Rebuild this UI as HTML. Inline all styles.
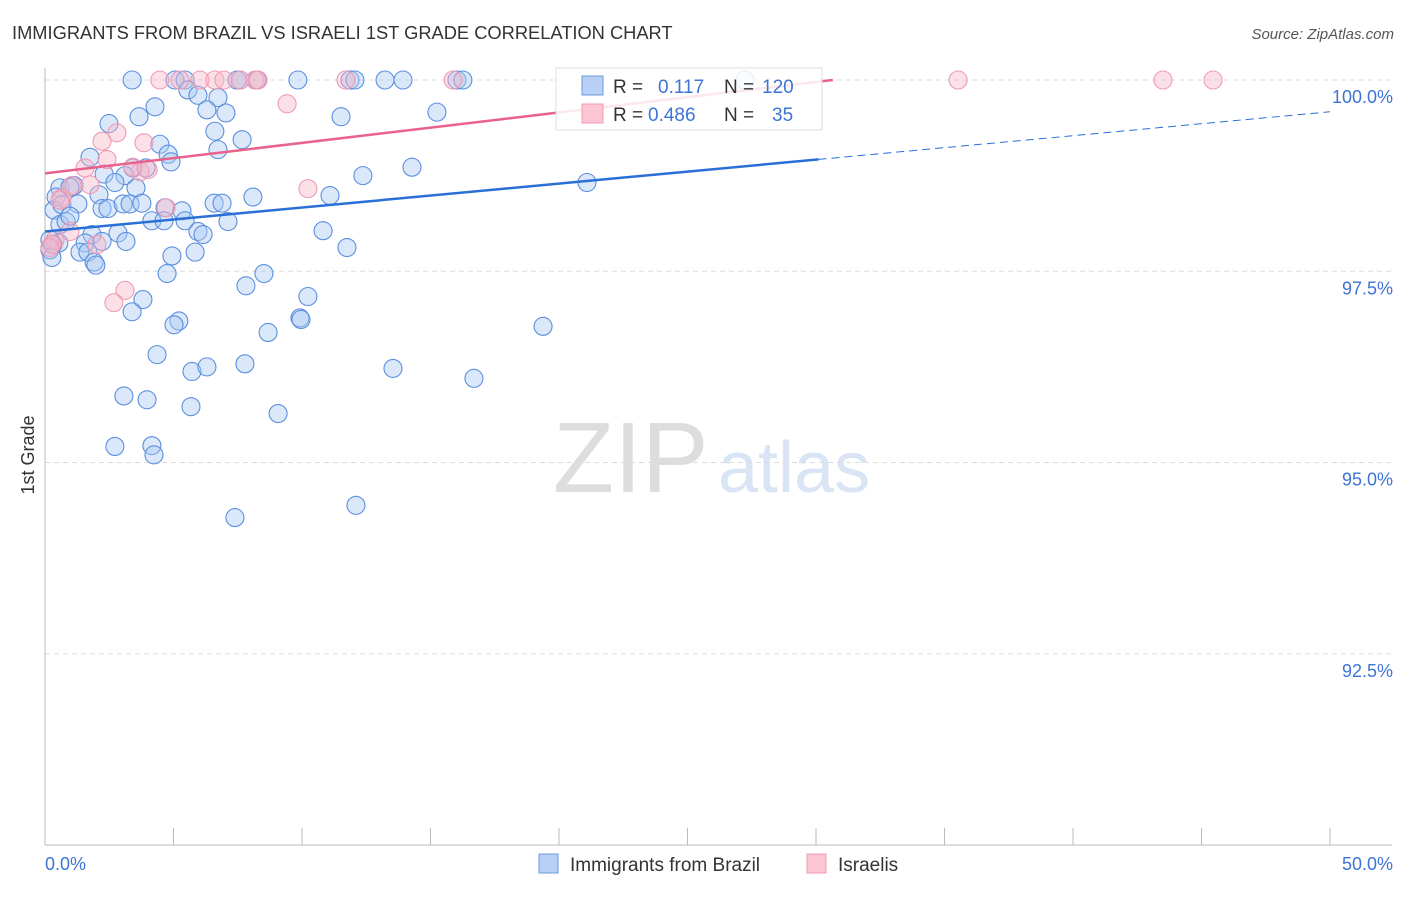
<!DOCTYPE html>
<html><head><meta charset="utf-8"><style>
body{margin:0;background:#fff;font-family:"Liberation Sans",sans-serif}
svg text{font-family:"Liberation Sans",sans-serif}
</style></head><body>
<svg id="chart" width="1406" height="892">
<text x="12" y="39" font-size="18.3" fill="#333">IMMIGRANTS FROM BRAZIL VS ISRAELI 1ST GRADE CORRELATION CHART</text>
<text x="1394" y="39" font-size="15" fill="#555" font-style="italic" text-anchor="end">Source: ZipAtlas.com</text>
<text transform="translate(34,455) rotate(-90)" font-size="18" fill="#333" text-anchor="middle">1st Grade</text>
<text x="553" y="492" font-size="100" fill="#ddd" font-family="Liberation Serif">ZIP</text>
<text x="718" y="492" font-size="72" fill="#d9e4f5">atlas</text>
<g id="grid"></g><g id="axes"></g><g id="pts"></g><g id="lines"></g>
<g>
<rect x="556" y="68" width="266" height="62" fill="#fff" fill-opacity="0.85" stroke="#ddd"/>
<rect x="582" y="76" width="21" height="19" fill="#b8d0f5" stroke="#6a9ae0"/>
<rect x="582" y="104" width="21" height="19" fill="#fbc5d4" stroke="#f09ab3"/>
<text x="613" y="93" font-size="19" fill="#333">R = </text><text x="658" y="93" font-size="19" fill="#3d74d6">0.117</text>
<text x="724" y="93" font-size="19" fill="#333">N = </text><text x="762" y="93" font-size="19" fill="#3d74d6">120</text>
<text x="613" y="121" font-size="19" fill="#333">R = </text><text x="648" y="121" font-size="19" fill="#3d74d6">0.486</text>
<text x="724" y="121" font-size="19" fill="#333">N = </text><text x="772" y="121" font-size="19" fill="#3d74d6">35</text>
</g>
<g>
<rect x="539" y="854" width="19" height="19" fill="#b8d0f5" stroke="#6a9ae0"/>
<text x="570" y="871" font-size="19" fill="#333">Immigrants from Brazil</text>
<rect x="807" y="854" width="19" height="19" fill="#fbc5d4" stroke="#f09ab3"/>
<text x="838" y="871" font-size="19" fill="#333">Israelis</text>
</g>
</svg>
<script>
const xTicks=[0,5,10,15,20,25,30,35,40,45,50];
const yTicks=[100,97.5,95,92.5];
const yTickLabels=["100.0%","97.5%","95.0%","92.5%"];
const xEndLabels=["0.0%","50.0%"];
const brazilX=[3.39,5.06,5.45,7.47,7.59,8.25,9.84,11.87,12.06,13.23,13.93,16.03,16.26,27.24,4.28,5.56,5.95,6.73,6.30,7.04,3.66,2.49,6.61,7.67,4.47,4.79,6.73,1.75,4.90,3.42,14.28,11.52,15.25,2.30,3.11,3.93,2.72,3.54,0.58,1.13,0.97,0.43,2.10,8.09,11.09,12.37,21.09,0.35,0.66,1.28,2.22,2.45,3.04,3.31,3.77,4.67,5.33,6.58,6.89,0.58,0.82,0.97,4.16,4.63,5.45,7.12,10.82,1.83,2.84,5.95,6.15,1.56,2.22,3.15,11.75,0.54,0.19,0.27,1.36,1.67,1.91,1.98,4.94,5.84,4.75,8.52,7.82,10.23,3.81,3.39,9.92,9.96,5.21,5.02,8.68,19.38,4.36,7.78,13.54,5.72,6.30,16.69,3.07,3.97,5.68,9.07,2.72,4.16,4.24,7.39,12.10,0.19,0.31];
const brazilY=[100,100,100,100,100,100,100,100,100,100,100,100,100,100,99.65,99.87,99.80,99.77,99.61,99.57,99.52,99.43,99.33,99.22,99.16,99.03,99.09,98.99,98.93,98.85,98.86,99.52,99.58,98.77,98.75,98.85,98.66,98.59,98.59,98.62,98.60,98.47,98.50,98.47,98.49,98.75,98.66,98.30,98.37,98.38,98.32,98.32,98.38,98.38,98.39,98.33,98.29,98.39,98.39,98.11,98.15,98.22,98.16,98.16,98.16,98.15,98.03,97.98,98.00,98.02,97.98,97.87,97.89,97.89,97.81,97.87,97.78,97.68,97.75,97.75,97.62,97.58,97.70,97.75,97.47,97.47,97.31,97.17,97.13,96.97,96.89,96.87,96.85,96.80,96.70,96.78,96.41,96.29,96.23,96.19,96.25,96.10,95.87,95.82,95.73,95.64,95.21,95.22,95.10,94.28,94.44,97.91,97.85];
const israelX=[4.47,5.25,6.03,6.61,6.96,7.59,8.17,8.29,11.71,15.88,35.53,43.50,45.45,9.42,2.80,2.22,3.85,2.41,1.56,3.70,4.01,1.05,1.75,10.23,0.66,4.71,0.39,0.27,0.97,2.02,3.11,2.68,3.42,0.19,0.58];
const israelY=[100,100,100,100,100,100,100,100,100,100,100,100,100,99.69,99.31,99.20,99.18,98.96,98.85,98.80,98.83,98.62,98.63,98.58,98.46,98.33,97.91,97.85,98.02,97.85,97.25,97.09,98.86,97.81,98.43];
const brazilTrend=[98.02,0.0313];
const israelTrend=[98.78,0.0398];

const X0=45,X1=1330,YT=80,YB=845;
const sx=v=>X0+(v/50)*(X1-X0);
const sy=v=>YT+(100-v)/10*(YB-YT);
const NS="http://www.w3.org/2000/svg";
function mk(p,tag,attrs){const e=document.createElementNS(NS,tag);for(const k in attrs)e.setAttribute(k,attrs[k]);p.appendChild(e);return e;}
const grid=document.getElementById('grid'),axes=document.getElementById('axes'),pts=document.getElementById('pts'),lines=document.getElementById('lines');
yTicks.forEach((t,i)=>{
 const l=mk(grid,'line',{x1:X0,x2:1392,y1:sy(t),y2:sy(t),stroke:'#ddd','stroke-dasharray':'5,4'});
 
 
 const tx=mk(grid,'text',{x:1393,y:sy(t)+23,'font-size':18,fill:'#3d74d6','text-anchor':'end'});
 tx.textContent=yTickLabels[i];
 
 
});
const ax=mk(axes,'line',{x1:X0,x2:1392,y1:YB,y2:YB,stroke:'#bbb'});


const ay=mk(axes,'line',{x1:X0,x2:X0,y1:68,y2:YB,stroke:'#bbb'});


xTicks.forEach(t=>{
 const l=mk(axes,'line',{x1:sx(t),x2:sx(t),y1:828,y2:YB,stroke:'#bbb'});
 
 
});
const xl0=mk(axes,'text',{x:45,y:870,'font-size':18,fill:'#3d74d6'});xl0.textContent=xEndLabels[0];


const xl1=mk(axes,'text',{x:1393,y:870,'font-size':18,fill:'#3d74d6','text-anchor':'end'});xl1.textContent=xEndLabels[1];


brazilX.forEach((v,i)=>{
 const c=mk(pts,'circle',{cx:sx(v),cy:sy(brazilY[i]),r:9,fill:'#a9c7f0','fill-opacity':0.42,stroke:'#5b8fe0','stroke-width':1.1});
 
 
});
israelX.forEach((v,i)=>{
 const c=mk(pts,'circle',{cx:sx(v),cy:sy(israelY[i]),r:9,fill:'#f9b6c9','fill-opacity':0.42,stroke:'#f09ab3','stroke-width':1.1});
 
 
});
const bEnd=30.1;
const b1=mk(lines,'line',{x1:sx(0),y1:sy(brazilTrend[0]),x2:sx(bEnd),y2:sy(brazilTrend[0]+brazilTrend[1]*bEnd),stroke:'#2a6fd6','stroke-width':2.5});


const b2=mk(lines,'line',{x1:sx(bEnd),y1:sy(brazilTrend[0]+brazilTrend[1]*bEnd),x2:sx(50),y2:sy(brazilTrend[0]+brazilTrend[1]*50),stroke:'#2a6fd6','stroke-width':1,'stroke-dasharray':'8,5'});


const iEnd=Math.min(50,(100-israelTrend[0])/israelTrend[1]);
const p1=mk(lines,'line',{x1:sx(0),y1:sy(israelTrend[0]),x2:sx(iEnd),y2:sy(israelTrend[0]+israelTrend[1]*iEnd),stroke:'#e8628c','stroke-width':2.5});


</script>
</body></html>
